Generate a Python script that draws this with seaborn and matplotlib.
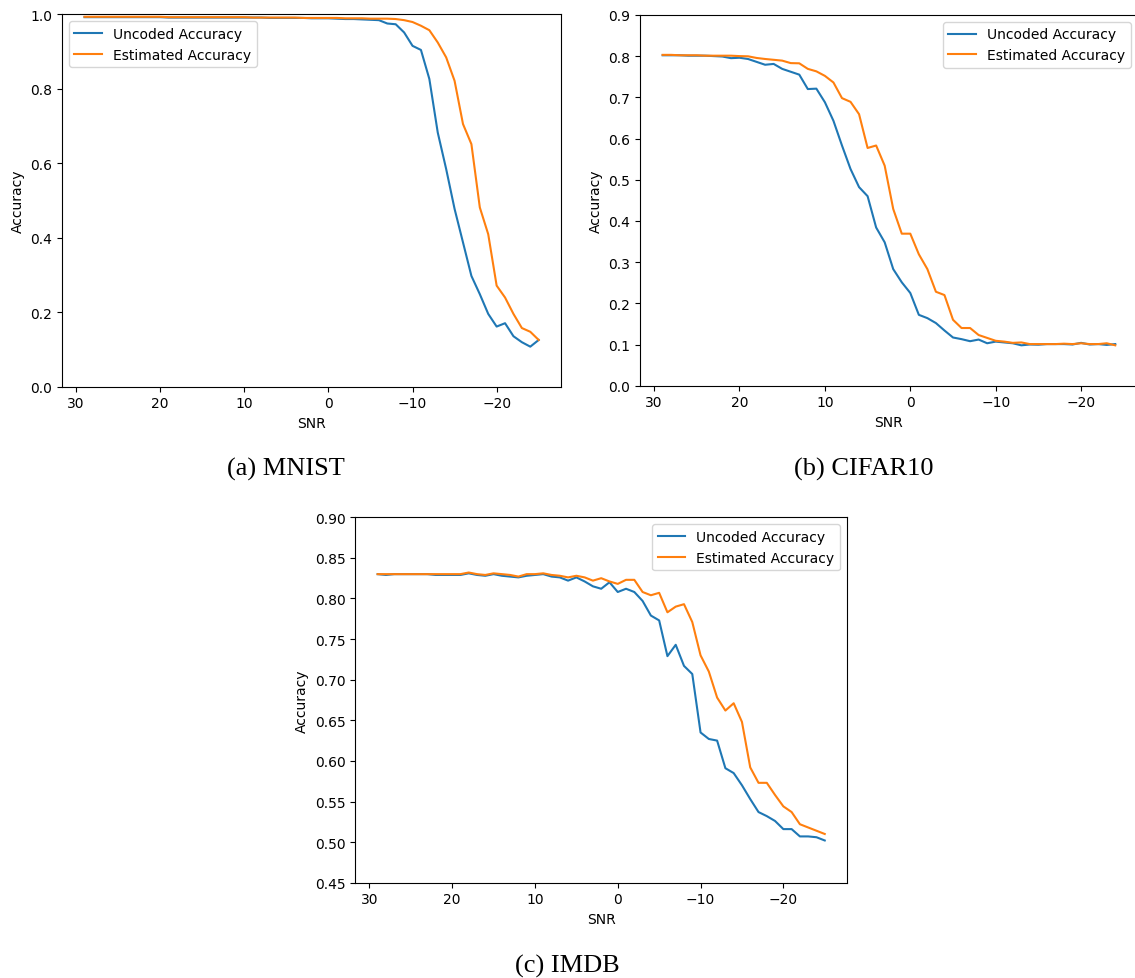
import numpy as np
import pandas as pd
import matplotlib
matplotlib.use("Agg")
import matplotlib.pyplot as plt
import seaborn as sns

# ---------------- data ----------------
series_names = ["Uncoded Accuracy", "Estimated Accuracy"]

mnist_snr = list(range(29, -26, -1))
mnist_uncoded = [
    0.992, 0.992, 0.992, 0.992, 0.992, 0.992, 0.992, 0.992, 0.992, 0.992,
    0.991, 0.991, 0.991, 0.991, 0.991, 0.991, 0.991, 0.991, 0.991, 0.991,
    0.991, 0.991, 0.990, 0.990, 0.990, 0.990, 0.990, 0.989, 0.989, 0.989,
    0.988, 0.987, 0.987, 0.986, 0.985, 0.984, 0.975, 0.973, 0.951, 0.915,
    0.904, 0.826, 0.682, 0.584, 0.477, 0.387, 0.297, 0.248, 0.195, 0.161,
    0.170, 0.135, 0.119, 0.107, 0.125,
]
mnist_estimated = [
    0.993, 0.993, 0.993, 0.993, 0.993, 0.993, 0.993, 0.993, 0.993, 0.993,
    0.992, 0.992, 0.992, 0.992, 0.992, 0.992, 0.992, 0.992, 0.992, 0.992,
    0.991, 0.991, 0.991, 0.991, 0.991, 0.991, 0.990, 0.990, 0.990, 0.990,
    0.990, 0.989, 0.989, 0.989, 0.988, 0.988, 0.988, 0.987, 0.984, 0.979,
    0.969, 0.957, 0.924, 0.884, 0.821, 0.705, 0.651, 0.481, 0.409, 0.271,
    0.239, 0.195, 0.157, 0.147, 0.125,
]

cifar_snr = list(range(29, -25, -1))
cifar_uncoded = [
    0.802, 0.802, 0.802, 0.801, 0.801, 0.801, 0.800, 0.799, 0.795, 0.796,
    0.793, 0.786, 0.779, 0.781, 0.769, 0.762, 0.755, 0.720, 0.721, 0.688,
    0.643, 0.583, 0.526, 0.482, 0.460, 0.384, 0.348, 0.283, 0.251, 0.225,
    0.172, 0.164, 0.152, 0.134, 0.117, 0.113, 0.108, 0.112, 0.103, 0.107,
    0.105, 0.103, 0.098, 0.100, 0.0995, 0.101, 0.101, 0.101, 0.100, 0.104,
    0.100, 0.101, 0.099, 0.101,
]
cifar_estimated = [
    0.803, 0.803, 0.802, 0.802, 0.802, 0.801, 0.801, 0.801, 0.801, 0.800,
    0.7995, 0.7955, 0.793, 0.791, 0.789, 0.783, 0.7825, 0.769, 0.763, 0.752,
    0.736, 0.698, 0.689, 0.659, 0.577, 0.583, 0.534, 0.429, 0.369, 0.369,
    0.319, 0.283, 0.228, 0.220, 0.160, 0.140, 0.140, 0.123, 0.116, 0.109,
    0.107, 0.104, 0.105, 0.101, 0.101, 0.101, 0.101, 0.102, 0.101, 0.103,
    0.101, 0.101, 0.103, 0.098,
]

imdb_snr = list(range(29, -26, -1))
imdb_uncoded = [
    0.830, 0.829, 0.830, 0.830, 0.830, 0.830, 0.830, 0.829, 0.829, 0.829,
    0.829, 0.831, 0.829, 0.828, 0.830, 0.828, 0.827, 0.826, 0.828, 0.829,
    0.830, 0.827, 0.826, 0.822, 0.826, 0.821, 0.815, 0.812, 0.820, 0.808,
    0.812, 0.808, 0.797, 0.779, 0.773, 0.729, 0.743, 0.717, 0.707, 0.635,
    0.627, 0.625, 0.591, 0.585, 0.570, 0.553, 0.537, 0.532, 0.526, 0.516,
    0.516, 0.507, 0.507, 0.506, 0.502,
]
imdb_estimated = [
    0.830, 0.830, 0.830, 0.830, 0.830, 0.830, 0.830, 0.830, 0.830, 0.830,
    0.830, 0.832, 0.830, 0.829, 0.831, 0.830, 0.829, 0.827, 0.830, 0.830,
    0.831, 0.829, 0.828, 0.826, 0.828, 0.826, 0.822, 0.825, 0.821, 0.818,
    0.823, 0.823, 0.808, 0.804, 0.807, 0.783, 0.790, 0.793, 0.771, 0.730,
    0.710, 0.678, 0.662, 0.671, 0.648, 0.592, 0.573, 0.573, 0.558, 0.544,
    0.537, 0.522, 0.518, 0.514, 0.510,
]

captions = ["(a) MNIST", "(b) CIFAR10", "(c) IMDB"]
colors = ["#1f77b4", "#ff7f0e"]

# ---------------- figure ----------------
W, H = 1135, 979
fig = plt.figure(figsize=(W / 100, H / 100), dpi=100)
fig.patch.set_facecolor("white")


def px_axes(left, top, right, bottom):
    return fig.add_axes([left / W, 1 - bottom / H, (right - left) / W, (bottom - top) / H])


def make_df(snr, unc, est):
    return pd.DataFrame({
        "SNR": list(snr) + list(snr),
        "Accuracy": list(unc) + list(est),
        "Series": [series_names[0]] * len(snr) + [series_names[1]] * len(snr),
    })


def draw(ax, df, xlim, ylim, loc):
    sns.lineplot(data=df, x="SNR", y="Accuracy", hue="Series", hue_order=series_names,
                 palette=colors, ax=ax, linewidth=1.5, sort=False)
    ax.set_xlim(*xlim)
    ax.set_ylim(*ylim)
    leg = ax.get_legend()
    handles = leg.legend_handles
    labels = [t.get_text() for t in leg.get_texts()]
    leg.remove()
    ax.legend(handles, labels, loc=loc, fontsize=10)
    ax.tick_params(labelsize=10)
    ax.set_xlabel("SNR", fontsize=10)
    ax.set_ylabel("Accuracy", fontsize=10)


ax_a = px_axes(61.8, 15.2, 561.4, 387.5)
draw(ax_a, make_df(mnist_snr, mnist_uncoded, mnist_estimated), (31.7, -27.7), (0.0, 1.0), "upper left")

ax_b = px_axes(640.0, 15.9, 1137.9, 386.7)
draw(ax_b, make_df(cifar_snr, cifar_uncoded, cifar_estimated), (31.65, -26.65), (0.0, 0.9), "upper right")
ax_b.spines["right"].set_visible(False)

ax_c = px_axes(355.3, 518.3, 847.1, 883.7)
draw(ax_c, make_df(imdb_snr, imdb_uncoded, imdb_estimated), (31.7, -27.7), (0.45, 0.90), "upper right")

serif = ["Liberation Serif", "DejaVu Serif"]
fig.text(286 / W, 1 - 469 / H, captions[0], ha="center", va="center", fontsize=19, family=serif)
fig.text(864 / W, 1 - 469 / H, captions[1], ha="center", va="center", fontsize=19, family=serif)
fig.text(567 / W, 1 - 966 / H, captions[2], ha="center", va="center", fontsize=19, family=serif)

fig.savefig("out.png", dpi=100)
